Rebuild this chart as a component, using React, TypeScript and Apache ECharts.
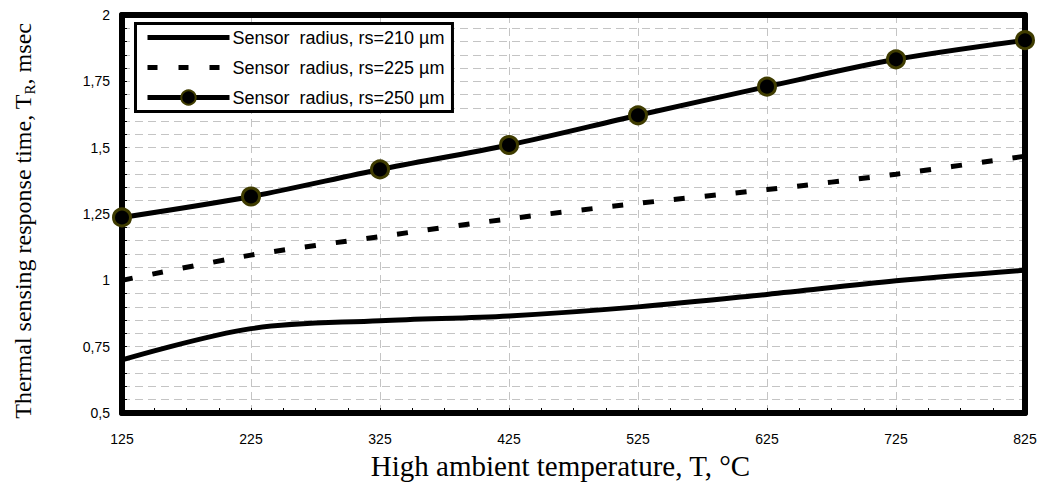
import React, { useEffect, useRef } from "react";
import * as echarts from "echarts";

const temperatures = [125, 225, 325, 425, 525, 625, 725, 825];
const rs210 = [0.70, 0.818, 0.848, 0.866, 0.9, 0.947, 0.998, 1.038];
const rs225 = [1.0, 1.095, 1.165, 1.232, 1.29, 1.342, 1.4, 1.468];
const rs250 = [1.237, 1.316, 1.418, 1.51, 1.622, 1.73, 1.833, 1.905];
const seriesNames = [
  "Sensor  radius, rs=210 µm",
  "Sensor  radius, rs=225 µm",
  "Sensor  radius, rs=250 µm",
];

const pairs = (ys: number[]) => temperatures.map((t, i) => [t, ys[i]]);

export default function App() {
  const ref = useRef<HTMLDivElement>(null);
  useEffect(() => {
    if (!ref.current) return;
    const chart = echarts.init(ref.current, null, { renderer: "svg" });
    const grid = "#c4c4c4";
    const frame = { show: true, onZero: false, lineStyle: { color: "#000", width: 6, cap: "round" } };
    const hiddenAxis = {
      axisLine: frame,
      axisTick: { show: false },
      axisLabel: { show: false },
      splitLine: { show: false },
    };
    chart.setOption({
      animation: false,
      backgroundColor: "#ffffff",
      grid: { left: 122, right: 17, top: 15, bottom: 73, outerBoundsMode: "none", containLabel: false },
      legend: {
        left: 135.5,
        top: 23.5,
        orient: "vertical",
        backgroundColor: "#fff",
        borderColor: "#000",
        borderWidth: 3,
        padding: [5, 8, 5, 9.5],
        itemWidth: 82,
        itemHeight: 18,
        itemGap: 12,
        textStyle: { fontFamily: "Liberation Sans", fontSize: 18, color: "#000", padding: [0, 0, 0, -2] },
        data: [
          { name: seriesNames[0], itemStyle: { opacity: 0 }, lineStyle: { width: 5 } },
          { name: seriesNames[1], itemStyle: { opacity: 0 }, lineStyle: { type: [10, 21], width: 5 } },
          { name: seriesNames[2], lineStyle: { width: 5 } },
        ],
      },
      xAxis: [
        {
          type: "value",
          min: 125,
          max: 825,
          interval: 100,
          name: "High ambient temperature, T, °C",
          nameLocation: "middle",
          nameGap: 38,
          nameTextStyle: { fontFamily: "Liberation Serif", fontSize: 29, color: "#000", padding: [0, 26, 0, 0] },
          axisLine: frame,
          axisTick: { show: true, inside: true, length: 5, lineStyle: { color: "#000", width: 1 } },
          minorTick: { show: true, splitNumber: 4, length: 5, lineStyle: { color: "#000", width: 1 } },
          axisLabel: { fontFamily: "Liberation Sans", fontSize: 14, color: "#000", margin: 19 },
          splitLine: { show: true, lineStyle: { color: grid, type: [8, 5], width: 1 } },
        },
        { type: "value", position: "top", min: 125, max: 825, interval: 100, ...hiddenAxis },
      ],
      yAxis: [
        {
          type: "value",
          min: 0.5,
          max: 2,
          interval: 0.25,
          name: "{a|Thermal sensing response time, T}{b|R}{a|, msec}",
          nameLocation: "middle",
          nameGap: 85,
          nameRotate: 90,
          nameTextStyle: {
            padding: [0, 14, 0, 0],
            rich: {
              a: { fontFamily: "Liberation Serif", fontSize: 24, color: "#000", lineHeight: 28 },
              b: {
                fontFamily: "Liberation Serif",
                fontSize: 15,
                color: "#000",
                lineHeight: 14,
                verticalAlign: "bottom",
                padding: [10, 0, 0, 0],
              },
            },
          },
          axisLine: frame,
          axisTick: { show: true, inside: true, length: 5, lineStyle: { color: "#000", width: 1 } },
          minorTick: { show: true, splitNumber: 5, length: 5, lineStyle: { color: "#000", width: 1 } },
          axisLabel: {
            fontFamily: "Liberation Sans",
            fontSize: 14,
            color: "#000",
            margin: 12,
            formatter: (v: number) => String(v).replace(".", ","),
          },
          splitLine: { show: true, lineStyle: { color: grid, type: [8, 5], width: 1 } },
          minorSplitLine: { show: true, lineStyle: { color: grid, type: [8, 5], width: 1 } },
        },
        { type: "value", position: "right", min: 0.5, max: 2, interval: 0.25, ...hiddenAxis },
      ],
      series: [
        {
          name: seriesNames[0],
          type: "line",
          data: pairs(rs210),
          smooth: 0.35,
          symbol: "none",
          clip: false,
          lineStyle: { color: "#000", width: 5 },
          itemStyle: { color: "#000" },
        },
        {
          name: seriesNames[1],
          type: "line",
          data: pairs(rs225),
          smooth: 0.3,
          symbol: "none",
          clip: false,
          lineStyle: { color: "#000", width: 5, type: [11, 20] },
          itemStyle: { color: "#000" },
        },
        {
          name: seriesNames[2],
          type: "line",
          data: pairs(rs250),
          smooth: 0.3,
          symbol: "circle",
          symbolSize: 17,
          clip: false,
          lineStyle: { color: "#000", width: 5 },
          itemStyle: { color: "#000", borderColor: "#3f3c00", borderWidth: 3 },
          z: 3,
        },
      ],
    });
    return () => chart.dispose();
  }, []);
  return <div ref={ref} style={{ width: 1042, height: 486, position: "absolute", left: 0, top: 0 }} />;
}
